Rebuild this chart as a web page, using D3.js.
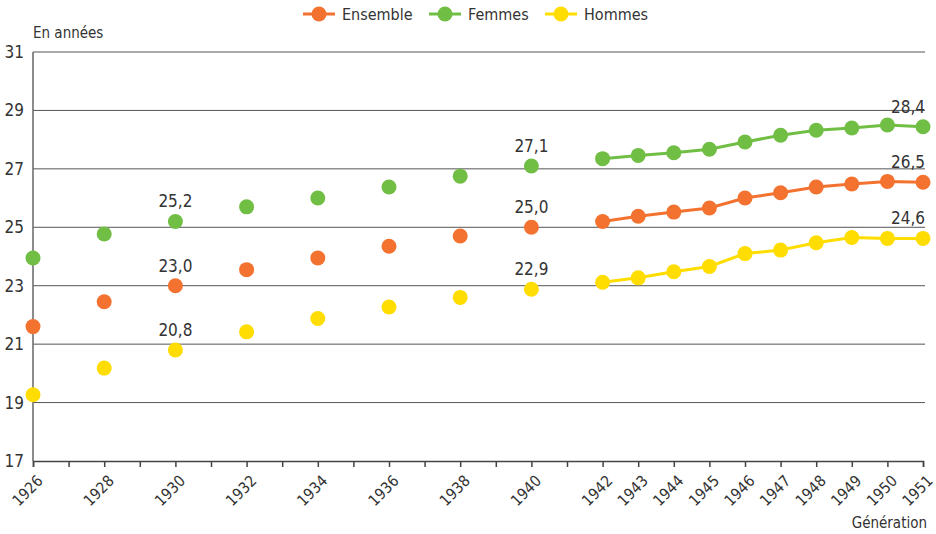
<!DOCTYPE html>
<html>
<head>
<meta charset="utf-8">
<script src="https://cdn.jsdelivr.net/npm/d3@7"></script>
<style>
  body { margin: 0; background: #fff; }
  text { font-family: "Liberation Sans Narrow", "DejaVu Sans Condensed", "Roboto", sans-serif; fill: #333; }
</style>
</head>
<body>
<div id="chart"></div>
<script>
// years on the x axis (generations)
var years = [1926, 1928, 1930, 1932, 1934, 1936, 1938, 1940,
             1942, 1943, 1944, 1945, 1946, 1947, 1948, 1949, 1950, 1951];
var ensemble = [21.6, 22.45, 23.0, 23.55, 23.95, 24.35, 24.7, 25.0,
                25.2, 25.38, 25.52, 25.66, 26.0, 26.18, 26.38, 26.48, 26.57, 26.54];
var femmes = [23.95, 24.77, 25.2, 25.7, 26.0, 26.38, 26.75, 27.1,
              27.35, 27.46, 27.55, 27.67, 27.92, 28.15, 28.32, 28.4, 28.5, 28.44];
var hommes = [19.27, 20.18, 20.8, 21.42, 21.88, 22.27, 22.6, 22.88,
              23.12, 23.27, 23.48, 23.66, 24.1, 24.22, 24.47, 24.65, 24.62, 24.62];
var yTicks = [17, 19, 21, 23, 25, 27, 29, 31];
// labelled values : series index, year
var labelled = [
  { s: 1, year: 1930, txt: "25,2" }, { s: 0, year: 1930, txt: "23,0" }, { s: 2, year: 1930, txt: "20,8" },
  { s: 1, year: 1940, txt: "27,1" }, { s: 0, year: 1940, txt: "25,0" }, { s: 2, year: 1940, txt: "22,9" },
  { s: 1, year: 1951, txt: "28,4" }, { s: 0, year: 1951, txt: "26,5" }, { s: 2, year: 1951, txt: "24,6" }
];

var series = [
  { name: "Ensemble", color: "#F37230", values: ensemble },
  { name: "Femmes", color: "#71BE45", values: femmes },
  { name: "Hommes", color: "#FFDD00", values: hommes }
];

var W = 936, H = 534;
var margin = { top: 52, right: 13, bottom: 73, left: 33 };
var width = W - margin.left - margin.right,
    height = H - margin.top - margin.bottom;

var svg = d3.select("#chart").append("svg")
  .attr("width", W).attr("height", H);

var g = svg.append("g")
  .attr("transform", "translate(" + margin.left + "," + margin.top + ")");

var x = d3.scaleLinear().domain([1926, 1951]).range([0, width]);
var y = d3.scaleLinear().domain([17, 31]).range([height, 0]);

// horizontal grid
g.selectAll(".grid").data(yTicks.filter(function(d) { return d > 17; }))
  .enter().append("line")
  .attr("x1", 0).attr("x2", width + 2)
  .attr("y1", function(d) { return y(d); }).attr("y2", function(d) { return y(d); })
  .attr("stroke", "#555").attr("stroke-width", 1);

// y axis
g.append("line")
  .attr("x1", 0).attr("x2", 0).attr("y1", y(31)).attr("y2", y(17))
  .attr("stroke", "#666").attr("stroke-width", 1.5);
g.selectAll(".ylab").data(yTicks).enter().append("text")
  .attr("x", -9).attr("y", function(d) { return y(d); })
  .attr("dy", "0.35em")
  .attr("text-anchor", "end")
  .style("font-size", "17px")
  .text(function(d) { return d; });

// x axis
var xAxis = g.append("g")
  .attr("transform", "translate(0," + height + ")")
  .call(d3.axisBottom(x).tickValues(d3.range(1926, 1952)).tickSize(6).tickFormat(""));
xAxis.select(".domain").attr("stroke", "#444").attr("stroke-width", 1.5);
xAxis.selectAll(".tick line").attr("stroke", "#444").attr("stroke-width", 1.5);

g.selectAll(".xlab").data(years).enter().append("text")
  .attr("transform", function(d) { return "translate(" + (x(d) + 7) + "," + (height + 17) + ") rotate(-45)"; })
  .attr("text-anchor", "end")
  .attr("dy", "0.35em")
  .style("font-size", "15.5px")
  .text(function(d) { return d; });

// lines for continuous years 1942-1951
var line = d3.line()
  .x(function(d) { return x(d[0]); })
  .y(function(d) { return y(d[1]); });

series.forEach(function(s) {
  var pts = years.map(function(yr, i) { return [yr, s.values[i]]; });
  g.append("path")
    .datum(pts.filter(function(p) { return p[0] >= 1942; }))
    .attr("d", line)
    .attr("fill", "none")
    .attr("stroke", s.color)
    .attr("stroke-width", 3);
  g.selectAll(null).data(pts).enter().append("circle")
    .attr("cx", function(d) { return x(d[0]); })
    .attr("cy", function(d) { return y(d[1]); })
    .attr("r", 7.5)
    .attr("fill", s.color);
});

// value labels
g.selectAll(".vlab").data(labelled).enter().append("text")
  .attr("x", function(d) { return d.year === 1951 ? x(d.year) + 2 : x(d.year); })
  .attr("y", function(d) { return y(series[d.s].values[years.indexOf(d.year)]) - 14; })
  .attr("text-anchor", function(d) { return d.year === 1951 ? "end" : "middle"; })
  .style("font-size", "17px")
  .text(function(d) { return d.txt; });

// axis titles
svg.append("text").attr("x", 33).attr("y", 38)
  .style("font-size", "15px").text("En années");
svg.append("text").attr("x", 927).attr("y", 528)
  .attr("text-anchor", "end")
  .style("font-size", "15px").text("Génération");

// legend
var legendX = [303, 429, 545];
var legend = svg.selectAll(".leg").data(series).enter().append("g")
  .attr("transform", function(d, i) { return "translate(" + legendX[i] + ",14)"; });
legend.append("line").attr("x1", 0).attr("x2", 32).attr("y1", 0).attr("y2", 0)
  .attr("stroke", function(d) { return d.color; }).attr("stroke-width", 3);
legend.append("circle").attr("cx", 16).attr("cy", 0).attr("r", 7.5)
  .attr("fill", function(d) { return d.color; });
legend.append("text").attr("x", 39).attr("y", 0).attr("dy", "0.35em")
  .style("font-size", "16px")
  .text(function(d) { return d.name; });
</script>
</body>
</html>
